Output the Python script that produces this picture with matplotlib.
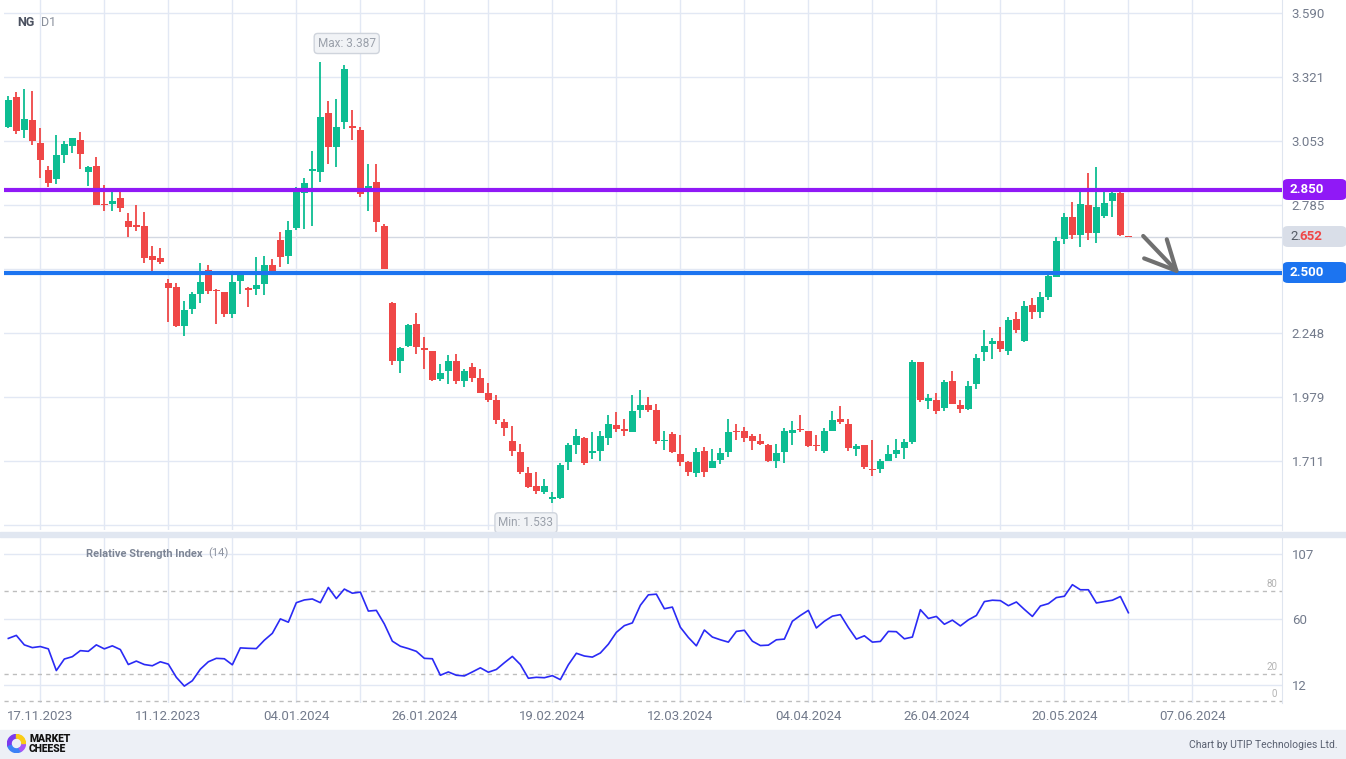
import numpy as np
import matplotlib.pyplot as plt
from matplotlib.patches import Rectangle, FancyBboxPatch, Wedge

plt.rcParams['font.family'] = ['Roboto', 'DejaVu Sans']

# daily candles, NG D1
opens = [3.114, 3.238, 3.101, 3.142, 3.045, 2.932, 2.895, 2.996, 3.034, 3.058,
         2.925, 2.949, 2.789, 2.790, 2.814, 2.718, 2.698, 2.697, 2.571, 2.563,
         2.458, 2.441, 2.279, 2.350, 2.413, 2.512, 2.430, 2.420, 2.329, 2.467,
         2.437, 2.434, 2.455, 2.533, 2.638, 2.572, 2.690, 2.837, 2.929, 2.925,
         3.171, 3.030, 3.135, 3.117, 3.100, 2.841, 2.882, 2.697, 2.374, 2.132,
         2.195, 2.286, 2.182, 2.172, 2.056, 2.090, 2.130, 2.048, 2.105, 2.059,
         1.996, 1.967, 1.875, 1.795, 1.749, 1.660, 1.606, 1.582, 1.553, 1.557,
         1.708, 1.779, 1.807, 1.746, 1.754, 1.809, 1.862, 1.845, 1.834, 1.926,
         1.946, 1.925, 1.795, 1.824, 1.740, 1.707, 1.662, 1.753, 1.683, 1.716,
         1.750, 1.837, 1.837, 1.816, 1.795, 1.778, 1.712, 1.750, 1.828, 1.845,
         1.837, 1.778, 1.754, 1.837, 1.887, 1.866, 1.762, 1.778, 1.677, 1.679,
         1.712, 1.742, 1.767, 1.792, 2.126, 1.964, 1.967, 1.934, 2.047, 1.946,
         1.930, 2.035, 2.169, 2.203, 2.214, 2.172, 2.307, 2.214, 2.365, 2.336,
         2.399, 2.483, 2.642, 2.735, 2.659, 2.785, 2.668, 2.739, 2.802, 2.835,
         2.656]
highs = [3.242, 3.259, 3.272, 3.263, 3.108, 2.949, 3.079, 3.054, 3.068, 3.091,
         2.949, 2.986, 2.869, 2.844, 2.844, 2.751, 2.785, 2.756, 2.613, 2.605,
         2.475, 2.458, 2.382, 2.420, 2.542, 2.533, 2.431, 2.421, 2.491, 2.500,
         2.441, 2.567, 2.571, 2.558, 2.672, 2.718, 2.861, 2.900, 3.012, 3.387,
         3.221, 3.230, 3.372, 3.184, 3.112, 2.957, 2.957, 2.705, 2.376, 2.189,
         2.287, 2.332, 2.231, 2.174, 2.119, 2.156, 2.161, 2.098, 2.122, 2.097,
         2.038, 1.988, 1.886, 1.858, 1.782, 1.686, 1.665, 1.635, 1.581, 1.702,
         1.786, 1.845, 1.812, 1.833, 1.837, 1.904, 1.916, 1.886, 1.988, 2.009,
         1.979, 1.950, 1.837, 1.834, 1.821, 1.711, 1.765, 1.770, 1.761, 1.765,
         1.887, 1.866, 1.853, 1.824, 1.824, 1.782, 1.782, 1.849, 1.879, 1.904,
         1.838, 1.820, 1.849, 1.921, 1.942, 1.887, 1.782, 1.779, 1.799, 1.719,
         1.778, 1.803, 1.803, 2.135, 2.128, 1.993, 1.997, 2.052, 2.090, 1.967,
         2.048, 2.160, 2.261, 2.227, 2.273, 2.315, 2.336, 2.382, 2.395, 2.420,
         2.500, 2.651, 2.751, 2.798, 2.844, 2.919, 2.944, 2.844, 2.844, 2.844,
         2.657]
lows = [3.109, 3.084, 3.066, 3.038, 2.900, 2.862, 2.874, 2.963, 3.004, 2.937,
        2.866, 2.784, 2.761, 2.761, 2.757, 2.652, 2.677, 2.543, 2.493, 2.539,
        2.295, 2.274, 2.237, 2.329, 2.375, 2.413, 2.287, 2.316, 2.312, 2.413,
        2.358, 2.409, 2.409, 2.493, 2.526, 2.539, 2.681, 2.686, 2.698, 2.883,
        2.958, 2.946, 3.103, 3.059, 2.820, 2.761, 2.670, 2.516, 2.115, 2.081,
        2.190, 2.161, 2.098, 2.048, 2.048, 2.035, 2.035, 2.023, 2.044, 1.995,
        1.960, 1.867, 1.817, 1.733, 1.658, 1.599, 1.574, 1.574, 1.533, 1.553,
        1.674, 1.741, 1.695, 1.720, 1.712, 1.779, 1.834, 1.817, 1.832, 1.893,
        1.918, 1.783, 1.758, 1.746, 1.691, 1.649, 1.645, 1.645, 1.681, 1.700,
        1.729, 1.799, 1.792, 1.758, 1.778, 1.708, 1.683, 1.704, 1.778, 1.834,
        1.770, 1.753, 1.746, 1.836, 1.867, 1.754, 1.733, 1.679, 1.649, 1.662,
        1.711, 1.725, 1.720, 1.781, 1.960, 1.930, 1.909, 1.922, 1.949, 1.913,
        1.926, 2.012, 2.132, 2.140, 2.169, 2.156, 2.248, 2.210, 2.307, 2.311,
        2.386, 2.481, 2.623, 2.644, 2.609, 2.638, 2.626, 2.730, 2.735, 2.657,
        2.651]
closes = [3.226, 3.097, 3.146, 3.055, 2.975, 2.879, 2.995, 3.041, 3.066, 3.000,
          2.944, 2.786, 2.786, 2.802, 2.774, 2.694, 2.694, 2.564, 2.554, 2.547,
          2.437, 2.279, 2.344, 2.412, 2.462, 2.425, 2.425, 2.329, 2.462, 2.491,
          2.430, 2.449, 2.533, 2.508, 2.568, 2.680, 2.848, 2.877, 2.937, 3.154,
          3.030, 3.112, 3.356, 3.109, 2.832, 2.865, 2.715, 2.518, 2.132, 2.185,
          2.282, 2.190, 2.178, 2.052, 2.081, 2.130, 2.048, 2.090, 2.060, 1.997,
          1.968, 1.884, 1.851, 1.754, 1.666, 1.603, 1.586, 1.606, 1.557, 1.694,
          1.778, 1.816, 1.704, 1.753, 1.816, 1.866, 1.846, 1.838, 1.921, 1.946,
          1.926, 1.796, 1.800, 1.750, 1.708, 1.666, 1.749, 1.666, 1.711, 1.744,
          1.833, 1.833, 1.809, 1.796, 1.783, 1.712, 1.744, 1.837, 1.841, 1.841,
          1.774, 1.774, 1.837, 1.883, 1.876, 1.767, 1.774, 1.687, 1.674, 1.711,
          1.740, 1.757, 1.791, 2.126, 1.968, 1.976, 1.922, 2.042, 1.951, 1.930,
          2.026, 2.143, 2.193, 2.214, 2.181, 2.302, 2.261, 2.361, 2.336, 2.399,
          2.487, 2.634, 2.735, 2.659, 2.789, 2.668, 2.777, 2.793, 2.835, 2.659,
          2.652]
rsi = [45.6, 47.8, 40.9, 38.9, 39.7, 38.0, 22.2, 30.6, 32.3, 36.7,
       36.2, 40.9, 38.0, 40.2, 37.5, 26.6, 29.1, 26.6, 25.7, 28.6,
       26.9, 17.3, 10.9, 14.8, 23.2, 28.6, 31.1, 30.8, 26.4, 38.7,
       38.4, 38.2, 44.3, 49.3, 59.8, 57.4, 71.6, 73.6, 74.3, 71.6,
       82.7, 74.6, 81.5, 78.5, 79.3, 65.5, 66.0, 56.1, 43.6, 39.9,
       38.2, 36.2, 31.1, 30.8, 18.8, 21.2, 18.8, 18.3, 21.2, 24.2,
       21.0, 23.0, 27.9, 32.5, 26.6, 16.6, 17.3, 17.0, 18.5, 15.6,
       26.4, 34.8, 32.8, 32.0, 35.0, 41.4, 50.0, 54.9, 56.9, 69.7,
       77.3, 77.8, 67.2, 68.4, 53.7, 46.3, 40.2, 51.7, 46.6, 44.6,
       42.9, 50.7, 51.5, 43.6, 40.4, 40.7, 44.6, 45.1, 58.1, 62.3,
       66.0, 53.2, 58.1, 61.8, 62.9, 53.5, 45.1, 47.5, 42.9, 43.4,
       50.7, 50.5, 45.3, 46.6, 66.5, 60.1, 61.6, 55.9, 58.9, 54.7,
       59.1, 62.3, 72.4, 73.4, 73.1, 69.4, 72.1, 66.7, 61.6, 69.2,
       70.9, 75.3, 76.3, 84.7, 81.0, 81.0, 71.4, 72.4, 73.4, 76.1,
       64.3]
date_labels = ['17.11.2023', '11.12.2023', '04.01.2024', '26.01.2024', '19.02.2024',
               '12.03.2024', '04.04.2024', '26.04.2024', '20.05.2024', '07.06.2024']
price_ticks = [3.590, 3.321, 3.053, 2.785, 2.517, 2.248, 1.979, 1.711, 1.443]
rsi_ticks = [107, 60, 12]
resistance = 2.850
support = 2.500
last_price = 2.652

GREEN = '#0dbd92'
RED = '#ef4747'
GRID = '#e2e8f4'
TXT = '#737b8c'

W, H = 1346, 759
fig = plt.figure(figsize=(W / 100, H / 100), dpi=100)
fig.patch.set_facecolor('white')

def fy(py):
    return 1 - py / H

o, h, l, c = map(np.array, (opens, highs, lows, closes))
x = np.arange(len(c))
cols = np.where(c >= o, GREEN, RED)

# price panel
ax = fig.add_axes([4 / W, fy(530), 1278 / W, 530 / H])
ax.set_xlim(-0.54, 159.2)
ax.set_ylim(1.4213, 3.6452)
ax.vlines(x, l, h, colors=cols, lw=1.3, zorder=3)
ax.bar(x, np.maximum(np.abs(c - o), 0.005), bottom=np.minimum(o, c), width=0.83,
       color=cols, linewidth=0, zorder=4)

ax.set_yticks(price_ticks)
ax.set_yticklabels(['' if t in (2.517, 1.443) else f'{t:.3f}' for t in price_ticks])
ax.yaxis.tick_right()
grid_x = np.arange(4, 150, 8)
ax.set_xticks(grid_x)
ax.set_xticklabels([])
ax.tick_params(length=0, labelsize=9.5, labelcolor=TXT, pad=7)
ax.grid(True, color=GRID, lw=1, zorder=0)
for s in ['top', 'left', 'bottom']:
    ax.spines[s].set_visible(False)
ax.spines['right'].set_color('#dfe5ef')

ax.axhline(last_price, color='#d3d8e2', lw=1, zorder=1)
ax.axhline(resistance, color='#9019f6', lw=3, zorder=5)
ax.axhline(support, color='#1c74f0', lw=3, zorder=5)

# arrow
ax.plot([141.85, 146.0], [2.655, 2.509], color='#707070', lw=3, solid_capstyle='round', zorder=6)
ax.plot([141.97, 146.0, 144.8], [2.561, 2.509, 2.641], color='#707070', lw=3,
        solid_capstyle='round', solid_joinstyle='round', zorder=6)

imax = int(np.argmax(h))
imin = int(np.argmin(l))
box = dict(boxstyle='round,pad=0.3', fc='#f1f3f6', ec='#cfd4dc', lw=1)
ax.annotate(f'Max: {h[imax]:.3f}', xy=(x[imax], h[imax]), xytext=(19, 13), textcoords='offset points',
            ha='center', va='center', fontsize=8.5, color='#9aa0aa', bbox=box, zorder=7)
ax.annotate(f'Min: {l[imin]:.3f}', xy=(x[imin], l[imin]), xytext=(-19, -14), textcoords='offset points',
            ha='center', va='center', fontsize=8.5, color='#9aa0aa', bbox=box, zorder=7)

fig.text(17 / W, fy(22), 'NG', fontsize=9, fontweight='bold', color='#4b5160', va='center')
fig.text(41 / W, fy(22), 'D1', fontsize=9, color='#8a909c', va='center')

# RSI panel
ax2 = fig.add_axes([4 / W, fy(703), 1278 / W, 166 / H])
ax2.set_xlim(-0.54, 159.2)
ax2.set_ylim(-1.4, 119.4)
ax2.plot(x, rsi, color='#2a2af5', lw=1.2, zorder=4)
for lvl in (80, 20, 0):
    ax2.axhline(lvl, color='#bdbdbd', lw=1, ls=(0, (3, 3)), zorder=2)
    ax2.text(158.6, lvl + 1.5, str(lvl), ha='right', va='bottom', fontsize=7, color='#b3b3b3')
ax2.set_yticks(rsi_ticks)
ax2.yaxis.tick_right()
ax2.set_xticks(grid_x)
ax2.set_xticklabels([date_labels[k // 2] if k % 2 == 0 else '' for k in range(len(grid_x))])
ax2.tick_params(length=0, labelsize=9.5, labelcolor=TXT, pad=7)
ax2.tick_params(axis='x', pad=5)
ax2.grid(True, color=GRID, lw=1, zorder=0)
for s in ['top', 'left', 'bottom']:
    ax2.spines[s].set_visible(False)
ax2.spines['right'].set_color('#dfe5ef')
ax2.text(0.064, 0.90, 'Relative Strength Index', transform=ax2.transAxes, fontsize=8,
         fontweight='bold', color='#7d8595', va='center')
ax2.text(0.160, 0.90, '(14)', transform=ax2.transAxes, fontsize=8, color='#8d93a0', va='center')

# panel separator and footer
fig.patches.append(Rectangle((0, fy(537)), 1, 5 / H, transform=fig.transFigure,
                             color='#e1e7f1', zorder=0))
fig.patches.append(Rectangle((0, 0), 1, 29 / H, transform=fig.transFigure,
                             color='#edf0f6', zorder=0))
fig.text(1338 / W, fy(745), 'Chart by UTIP Technologies Ltd.', ha='right', va='center',
         fontsize=7.5, color='#596070')
fig.text(29 / W, fy(739.5), 'MARKET', fontsize=7.5, fontweight='black', color='#111', va='center')
fig.text(29 / W, fy(749), 'CHEESE', fontsize=7.5, fontweight='black', color='#111', va='center')
logo = fig.add_axes([7 / W, fy(753), 19 / W, 19 / H])
logo.set_zorder(20)
logo.set_xlim(-1, 1)
logo.set_ylim(-1, 1)
logo.set_aspect('equal')
logo.axis('off')
for a1, a2, col in [(90, 200, '#7c3aed'), (200, 300, '#3b82f6'), (300, 360, '#a855f7'), (0, 90, '#facc15')]:
    logo.add_patch(Wedge((0, 0), 0.95, a1, a2, width=0.38, color=col))

# price tags on the right axis
def tag(y0, y1, fc):
    p = FancyBboxPatch((1283 / W, fy(y1)), 63 / W, (y1 - y0) / H, boxstyle='round,pad=0,rounding_size=0.004',
                       transform=fig.transFigure, fc=fc, ec='none', zorder=10)
    fig.patches.append(p)

tag(179, 200, '#9019f6')
fig.text(1290 / W, fy(189.5), f'{resistance:.3f}', color='white', fontsize=9.5, fontweight='bold',
         va='center', zorder=11)
tag(226, 247, '#d9dee8')
lp = f'{last_price:.3f}'
fig.text(1290 / W, fy(236.5), lp[:2], color='#555b66', fontsize=9.5, va='center', zorder=11)
fig.text(1299.5 / W, fy(236.5), lp[2:], color=RED, fontsize=9.5, fontweight='bold', va='center', zorder=11)
tag(262, 283, '#1c74f0')
fig.text(1290 / W, fy(272.5), f'{support:.3f}', color='white', fontsize=9.5, fontweight='bold',
         va='center', zorder=11)

fig.savefig('out.png', dpi=100)
